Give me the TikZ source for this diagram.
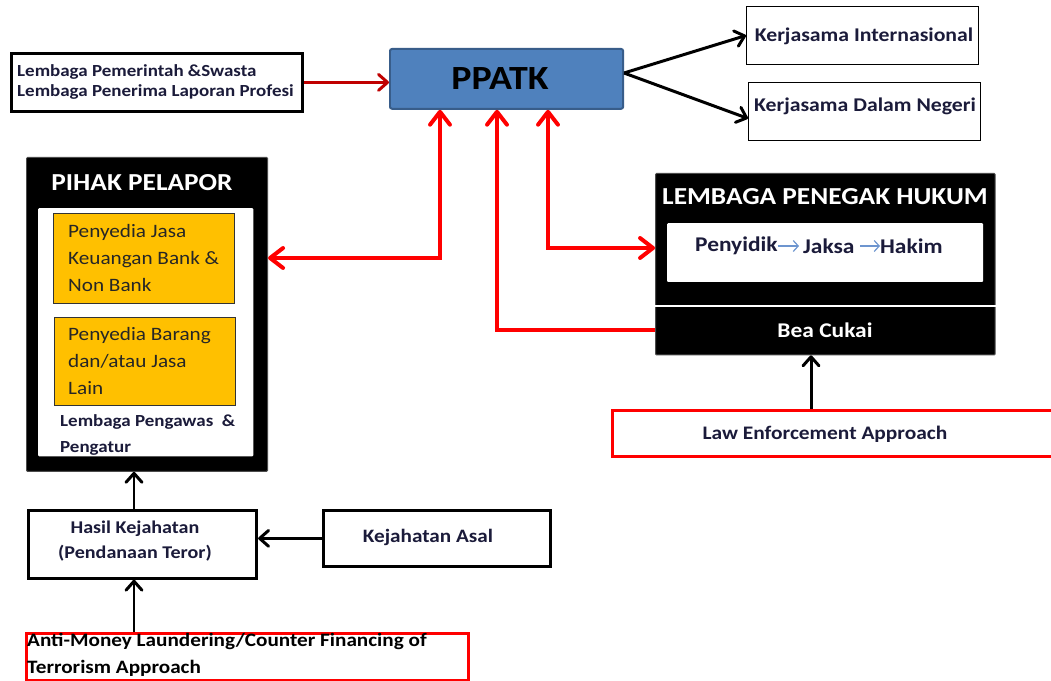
\documentclass[tikz,border=0pt]{standalone}
\usepackage{fontspec}
\setmainfont{Carlito}[FakeStretch=1.12]
\usetikzlibrary{arrows.meta}
\definecolor{navy}{HTML}{1B1B3A}
\definecolor{ppfill}{HTML}{4F81BD}
\definecolor{ppdraw}{HTML}{385D8A}
\definecolor{gold}{HTML}{FFC000}
\definecolor{darkred}{HTML}{C00000}
\definecolor{lblue}{HTML}{6D95CF}
\tikzset{
  fs/.style={font=\fontsize{#1}{#1}\selectfont\bfseries},
  wbox/.style={draw=black, line width=1.2, fill=white, inner sep=0},
  tbox/.style={draw=black, line width=3, fill=white, inner sep=0},
  rbox/.style={draw=red, line width=3, fill=white, inner sep=0},
  blk/.style={fill=black, draw=black!70, line width=1, inner sep=0, rounded corners=1},
  redtip/.tip={Straight Barb[length=13, width=20, line width=4, round]},
  blktip/.tip={Straight Barb[length=9, width=16, line width=3, round]},
  redarr/.style={draw=red, line width=4, -redtip},
  redarr2/.style={draw=red, line width=4, redtip-redtip},
  blkarr/.style={draw=black, line width=3, -blktip},
  txt/.style={text=navy, inner sep=0},
}
\begin{document}
\begin{tikzpicture}[x=1bp, y=-1bp]
\useasboundingbox[fill=white] (0,0) rectangle (1051,681);
% left top box
\node[tbox, minimum width=292, minimum height=58, anchor=north west] (lp) at (10,52) {};
\node[txt, anchor=west, align=left, font=\fontsize{17}{20}\selectfont\bfseries] at (17,82) {Lembaga Pemerintah \&Swasta\\Lembaga Penerima Laporan Profesi};
% PPATK
\node[draw=ppdraw, fill=ppfill, line width=2, rounded corners=2, minimum width=234, minimum height=60, anchor=north west, inner sep=0] (pp) at (389,48) {};
\node[fs=34, text=black, inner sep=0] at (500,79) {PPATK};
% Kerjasama boxes
\node[wbox, minimum width=233, minimum height=58, anchor=north west] (ki) at (746,6) {};
\node[txt, fs=19.5] at (864,36) {Kerjasama Internasional};
\node[wbox, minimum width=233, minimum height=58, anchor=north west] (kd) at (748,82) {};
\node[txt, fs=19.5] at (865,106) {Kerjasama Dalam Negeri};
\coordinate (ppr) at (624,73);
\draw[blkarr] (ppr) -- (ki.west);
\draw[blkarr] (ppr) -- ([yshift=-7]kd.west);
\draw[draw=darkred, line width=3, -blktip] (lp.east) -- (pp.west |- lp.east);
% PIHAK PELAPOR
\node[blk, minimum width=242, minimum height=315, anchor=north west] (pl) at (26,157) {};
\node[fs=24.5, text=white, inner sep=0] at (142,183) {PIHAK PELAPOR};
\node[fill=white, rounded corners=1, minimum width=216, minimum height=249, anchor=north west, inner sep=0] (plin) at (38,208) {};
\node[draw=black!80, line width=0.8, fill=gold, minimum width=182, minimum height=90, anchor=north west, inner sep=0] (o1) at (53,213) {};
\node[text=black!85, inner sep=0, anchor=west, align=left, font=\fontsize{19}{27.5}\selectfont] at (68,258) {Penyedia Jasa\\Keuangan Bank \&\\Non Bank};
\node[draw=black!80, line width=0.8, fill=gold, minimum width=182, minimum height=88, anchor=north west, inner sep=0] (o2) at (54,317) {};
\node[text=black!85, inner sep=0, anchor=west, align=left, font=\fontsize{19}{27.5}\selectfont] at (68,361) {Penyedia Barang\\dan/atau Jasa\\Lain};
\node[txt, anchor=west, align=left, font=\fontsize{17}{26}\selectfont\bfseries] at (60,435) {Lembaga Pengawas \ \&\\Pengatur};
% LEMBAGA PENEGAK HUKUM
\node[blk, minimum width=341, minimum height=182, anchor=north west] (lh) at (655,173) {};
\node[fs=24.5, text=white, inner sep=0] at (825,197) {LEMBAGA PENEGAK HUKUM};
\node[fill=white, rounded corners=1, minimum width=317, minimum height=59, anchor=north west, inner sep=0] (lhin) at (667,223) {};
\node[txt, fs=21, anchor=west] (py) at (695,246) {Penyidik};
\node[txt, fs=21, anchor=west] (jk) at (803,246) {Jaksa};
\node[txt, fs=21, anchor=west] (hk) at (880,246) {Hakim};
\draw[lblue, line width=1.2, -{Straight Barb[length=5,width=11,line width=1.2]}] (py.east) -- ([xshift=-4]jk.west);
\draw[lblue, line width=1.2, -{Straight Barb[length=5,width=11,line width=1.2]}] ([xshift=-20]hk.west) -- (hk.west);
\draw[white, line width=1.2] (655,306) -- (996,306);
\node[fs=21, text=white, inner sep=0] at (825,330) {Bea Cukai};
\coordinate (bc) at (655,330);
% red connectors
\draw[redarr2] (pp.south -| 440,0) -- (440,258) -- (pl.east |- 0,258);
\draw[redarr] (bc) -- (497,330) -- (pp.south -| 497,0);
\draw[redarr2] (pp.south -| 548,0) -- (548,248) -- (lh.west |- 0,248);
% Law enforcement approach
\node[rbox, minimum width=445, minimum height=46, anchor=north west] (le) at (611,409) {};
\node[txt, fs=19.2] at (825,434) {Law Enforcement Approach};
\draw[blkarr] (le.north -| 811,0) -- (lh.south -| 811,0);
% Hasil Kejahatan
\node[tbox, minimum width=229, minimum height=68, anchor=north west] (hs) at (27,509) {};
\node[txt, align=center, font=\fontsize{18}{25}\selectfont\bfseries] at (135,541) {Hasil Kejahatan\\(Pendanaan Teror)};
\node[tbox, minimum width=228, minimum height=56, anchor=north west] (ka) at (322,509) {};
\node[txt, fs=19] at (428,537) {Kejahatan Asal};
\draw[blkarr] (ka.west) -- (hs.east |- ka.west);
\draw[blkarr] (hs.north -| 134,0) -- (pl.south -| 134,0);
% AML
\node[rbox, minimum width=444, minimum height=47, anchor=north west] (aml) at (25,632) {};
\node[text=black, anchor=west, align=left, inner sep=0, font=\fontsize{19}{27}\selectfont\bfseries] at (27,655) {Anti-Money Laundering/Counter Financing of\\Terrorism Approach};
\draw[blkarr] (aml.north -| 134,0) -- (hs.south -| 134,0);
\end{tikzpicture}
\end{document}
